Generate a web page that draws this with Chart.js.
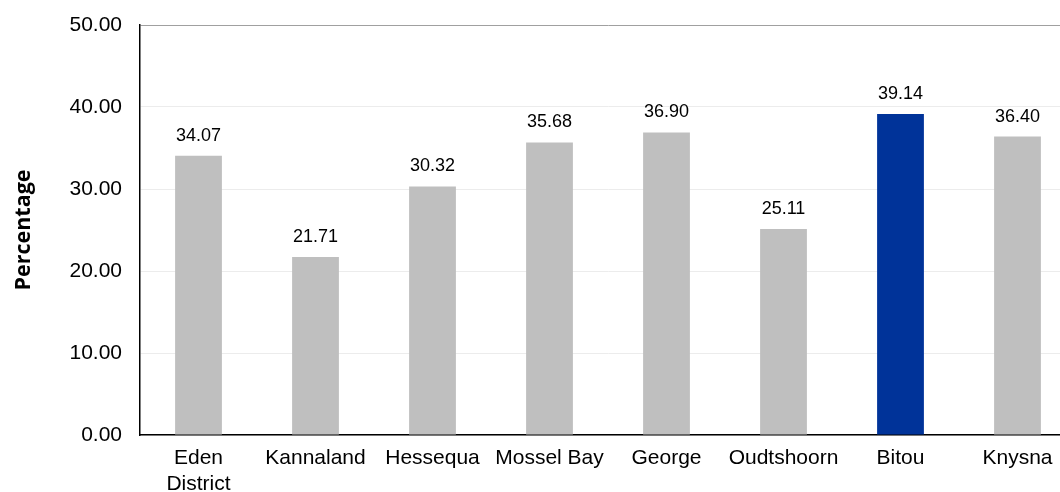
<!DOCTYPE html>
<html>
<head>
<meta charset="utf-8">
<script src="https://cdn.jsdelivr.net/npm/chart.js@4/dist/chart.umd.min.js"></script>
<style>
  html, body { margin: 0; padding: 0; background: #fff; overflow: hidden; }
  #wrap { position: relative; width: 1080px; height: 492px; }
</style>
</head>
<body>
<div id="wrap"><canvas id="c"></canvas></div>
<script>
const categories = [["Eden", "District"], "Kannaland", "Hessequa", "Mossel Bay", "George", "Oudtshoorn", "Bitou", "Knysna"];
const values = [34.07, 21.71, 30.32, 35.68, 36.90, 25.11, 39.14, 36.40];
const highlight = "Bitou";
const yTicks = [0, 10, 20, 30, 40, 50];

const barColors = categories.map(c => c === highlight ? "#003399" : "#BFBFBF");

const valueLabels = {
  id: "valueLabels",
  afterDatasetsDraw(chart) {
    const ctx = chart.ctx;
    const meta = chart.getDatasetMeta(0);
    ctx.save();
    ctx.font = "18px 'Liberation Sans', Arial, sans-serif";
    ctx.fillStyle = "#000";
    ctx.textAlign = "center";
    ctx.textBaseline = "alphabetic";
    meta.data.forEach((bar, i) => {
      ctx.fillText(values[i].toFixed(2), bar.x, bar.y - 15);
    });
    ctx.restore();
  }
};

new Chart(document.getElementById("c"), {
  type: "bar",
  data: {
    labels: categories,
    datasets: [{
      data: values,
      backgroundColor: barColors,
      borderWidth: 0,
      barPercentage: 0.40,
      categoryPercentage: 1.0
    }]
  },
  options: {
    responsive: true,
    maintainAspectRatio: false,
    animation: false,
    events: [],
    layout: { padding: { top: 25, right: 4, bottom: 0, left: 0 } },
    plugins: { legend: { display: false }, tooltip: { enabled: false } },
    scales: {
      x: {
        offset: true,
        grid: { display: false, drawTicks: false },
        border: { display: true, color: "#000", width: 1.5 },
        ticks: {
          color: "#000",
          padding: 11,
          maxRotation: 0,
          autoSkip: false,
          font: { family: "'Liberation Sans', Arial, sans-serif", size: 21, lineHeight: 1.2 }
        },
        afterFit(scale) { scale.height = 57; }
      },
      y: {
        min: 0,
        max: 50,
        afterBuildTicks(scale) { scale.ticks = yTicks.map(v => ({ value: v })); },
        grid: {
          drawTicks: true,
          tickLength: 18,
          tickColor: "rgba(0,0,0,0)",
          color: ctx => (ctx.tick && ctx.tick.value === 50) ? "#a0a0a0" : "#ececec",
          lineWidth: 1
        },
        border: { display: true, color: "#000", width: 1.5 },
        ticks: {
          color: "#000",
          padding: 0,
          font: { family: "'Liberation Sans', Arial, sans-serif", size: 21 },
          callback: v => Number(v).toFixed(2)
        },
        title: {
          display: true,
          text: "Percentage",
          color: "#000",
          padding: { top: 11, bottom: 0 },
          font: { family: "'Open Sans', sans-serif", size: 21.5, weight: "bold", lineHeight: 1.2 }
        },
        afterFit(scale) { scale.width = 140; }
      }
    }
  },
  plugins: [valueLabels]
});
</script>
</body>
</html>
